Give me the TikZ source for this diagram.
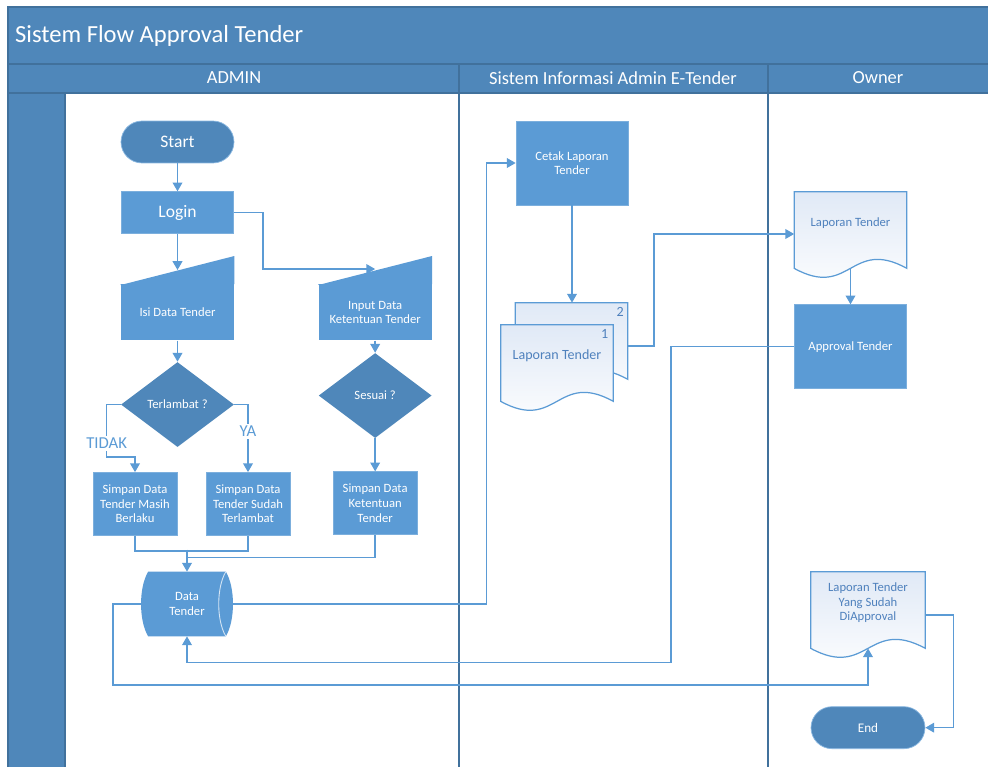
\documentclass[tikz,border=0pt]{standalone}
\usepackage{fontspec}
\setmainfont{Carlito}
\usepackage{xcolor}
\usetikzlibrary{arrows.meta,positioning,shapes.geometric,calc}
\definecolor{band}{RGB}{79,135,186}
\definecolor{boxfill}{RGB}{91,155,213}
\definecolor{linec}{RGB}{91,155,213}
\definecolor{rule}{RGB}{65,113,156}
\definecolor{doctext}{RGB}{79,129,189}
\definecolor{docshade}{RGB}{224,233,246}
\pgfdeclarelayer{bg}
\pgfdeclarelayer{mid}
\pgfsetlayers{bg,mid,main}
\newcommand{\boxfont}{\fontsize{7.2}{8.3}\selectfont}
% document outline with wavy bottom, drawn from a node's anchors
\newcommand{\docshape}[1]{%
  \draw[docbody] (#1.north west) -- (#1.north east) -- ($(#1.south east)+(0,14)$)
    .. controls ($(#1.south)+(0,-17)$) and ($(#1.south)+(0,45)$) .. ($(#1.south west)+(0,14)$) -- cycle;}

\begin{document}
\begin{tikzpicture}[
  x=0.02cm, y=-0.02cm,
  every node/.style={font=\boxfont, align=center, inner sep=1pt},
  lane/.style={text=white, font=\fontsize{10.5}{12}\selectfont},
  term/.style={fill=band, draw=boxfill!70!white, line width=0.4pt, rounded corners=0.42cm,
    minimum width=2.26cm, minimum height=0.84cm, text=white, font=\fontsize{10}{12}\selectfont},
  proc/.style={fill=boxfill, draw=boxfill!80!white, line width=0.4pt, text=white,
    minimum width=2.24cm, minimum height=1.68cm},
  simpan/.style={proc, minimum width=1.68cm, minimum height=1.26cm},
  manin/.style={fill=boxfill, text=white, minimum width=2.26cm, minimum height=1.12cm},
  decide/.style={diamond, fill=band, text=white, minimum width=2.26cm, minimum height=1.7cm, inner sep=0pt},
  doc/.style={text=doctext, minimum width=2.24cm, minimum height=1.24cm},
  docbody/.style={draw=linec, line width=0.7pt, top color=docshade, bottom color=white},
  store/.style={text=white, minimum width=1.54cm, minimum height=1.28cm},
  lbl/.style={fill=white, text=linec, font=\fontsize{9.5}{11}\selectfont, inner sep=1pt},
  link/.style={draw=linec, line width=0.8pt},
  arr/.style={link, -{Triangle[length=5pt,width=5.5pt]}}
]
\useasboundingbox (0,0) rectangle (988,767);

% swimlanes
\begin{pgfonlayer}{bg}
\fill[white] (0,0) rectangle (988,767);
\fill[band] (8,7) rectangle (1000,93);
\fill[band] (8,93) rectangle (65,780);
\draw[rule, line width=0.6pt] (8,780) -- (8,7) -- (1000,7);
\draw[rule, line width=0.6pt] (8,64) -- (1000,64);
\draw[rule, line width=0.6pt] (8,93) -- (1000,93);
\draw[rule, line width=0.6pt] (65,93) -- (65,780);
\draw[rule, line width=0.6pt] (459,64) -- (459,780);
\draw[rule, line width=0.6pt] (768,64) -- (768,780);
\end{pgfonlayer}

\node[lane, anchor=west, font=\fontsize{14}{16}\selectfont] (title) at (13,36) {Sistem Flow Approval Tender};
\node[lane] (hadmin) at (234,78) {ADMIN};
\node[lane] (hsys) at (613,78) {Sistem Informasi Admin E-Tender};
\node[lane] (howner) at (878,78) {Owner};

% admin
\node[term] (start) at (177.5,142) {Start};
\node[proc, minimum height=0.84cm, font=\fontsize{10}{12}\selectfont, below=0.56cm of start] (login) {Login};
\node[manin, below=1cm of login] (isi) {Isi Data Tender};
\node[decide, below=0.42cm of isi] (terl) {Terlambat ?};
\node[simpan] (masih) at (135,504) {Simpan Data\\Tender Masih\\Berlaku};
\node[simpan] (sudah) at (248,504) {Simpan Data\\Tender Sudah\\Terlambat};
\node[manin, right=1.68cm of isi] (inp) {Input Data\\Ketentuan Tender};
\node[decide, below=0.24cm of inp] (ses) {Sesuai ?};
\node[simpan, below=0.66cm of ses] (ket) {Simpan Data\\Ketentuan\\Tender};
\node[store] (data) at (187,604) {Data\\Tender};

\fill[boxfill] ($(isi.north west)+(0,1)$) -- (isi.north west) -- (isi.north east) -- ($(isi.north east)+(0,-28)$) -- cycle;
\fill[boxfill] ($(inp.north west)+(0,1)$) -- (inp.north west) -- (inp.north east) -- ($(inp.north east)+(0,-28)$) -- cycle;

% sistem
\node[proc] (cetak) at (572,163) {Cetak Laporan\\Tender};
\node[doc] (lapback) at (571.5,334) {};
\node[doc, font=\fontsize{8}{9.5}\selectfont] (lap) at (557,356) {Laporan Tender};
\node[text=doctext, font=\fontsize{8}{9}\selectfont, anchor=north east] (n2) at ($(lapback.north east)+(-2,3)$) {2};
\node[text=doctext, font=\fontsize{8}{9}\selectfont, anchor=north east] (n1) at ($(lap.north east)+(-3,3)$) {1};

% owner
\node[doc] (lapown) at (850.5,223) {Laporan Tender};
\node[proc, below=1cm of lapown] (appr) {Approval Tender};
\node[doc, minimum width=2.28cm] (final) at (868,603) {Laporan Tender\\Yang Sudah\\DiApproval};
\node[term, minimum width=2.28cm, font=\fontsize{7.5}{9}\selectfont, below=1.44cm of final] (end) {End};

\begin{pgfonlayer}{mid}
\docshape{lapback}
\docshape{lap}
\docshape{lapown}
\docshape{final}
\fill[boxfill] (data.north west) -- (data.north east) .. controls +(9.5,16) and +(9.5,-16) .. (data.south east)
  -- (data.south west) .. controls +(-9.5,-16) and +(-9.5,16) .. (data.north west) -- cycle;
\draw[white!75!boxfill, line width=0.5pt] (data.north east) .. controls +(-9.5,16) and +(-9.5,-16) .. (data.south east);
\end{pgfonlayer}

\draw[arr] (start) -- (login);
\draw[arr] (login) -- ($(isi.north)+(0,-14)$);
\draw[arr] (login.east) -- ++(29,0) |- ($(inp.north)+(0,-15)$);
\draw[arr] (isi) -- (terl);
\draw[arr] (terl.west) -- ++(-14,0) |- node[lbl, pos=0.37] (tidak) {TIDAK} ($(masih.north)+(0,-15)$) -- (masih.north);
\draw[arr] (terl.east) -| node[lbl, pos=0.7] (ya) {YA} (sudah.north);
\draw[arr] (inp) -- (ses);
\draw[arr] (ses) -- (ket);
\draw[link] (masih.south) -- ++(0,15) -| (sudah.south);
\draw[link] (ket.south) |- ($(data.north)+(0,-14)$);
\draw[arr] ($(data.north)+(0,-22)$) -- (data.north);
\draw[arr] ($(data.east)+(7,0)$) -| ($(cetak.west)+(-29,0)$) -- (cetak.west);
\draw[arr] (cetak.south) -- (cetak.south |- lapback.north);
\draw[arr] ($(lapback.east)+(0,12)$) -- ++(26,0) |- ($(lapown.west)+(0,11)$);
\draw[arr] ($(lapown.south)+(0,14)$) -- (appr.north);
\draw[arr] (appr.west) -| ($(data.south)+(484,26)$) -| (data.south);
\draw[arr] ($(data.west)+(-7,0)$) -| ($(data.west)+(-35,81)$) -| ($(final.south)+(0,14)$);
\draw[arr] ($(final.east)+(0,12)$) -- ++(28,0) |- (end.east);
\end{tikzpicture}
\end{document}
